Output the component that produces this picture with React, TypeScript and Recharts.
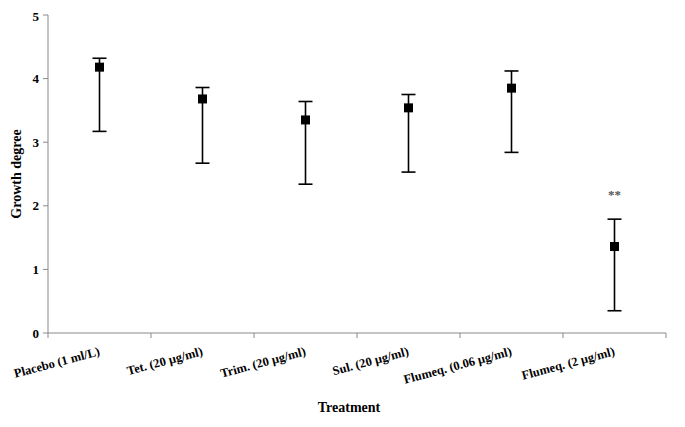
import React from "react";
import { ComposedChart, Line, XAxis, YAxis, ErrorBar, ReferenceDot } from "recharts";

const CATEGORIES = [
  "Placebo (1 ml/L)",
  "Tet. (20 µg/ml)",
  "Trim. (20 µg/ml)",
  "Sul. (20 µg/ml)",
  "Flumeq. (0.06 µg/ml)",
  "Flumeq. (2 µg/ml)",
];
const MEANS = [4.18, 3.68, 3.35, 3.54, 3.85, 1.36];
const UPPER = [4.32, 3.86, 3.64, 3.75, 4.12, 1.79];
const LOWER = [3.17, 2.67, 2.34, 2.53, 2.84, 0.35];
const Y_TICKS = [0, 1, 2, 3, 4, 5];
const SIG_MARKS = [{ name: "Flumeq. (2 µg/ml)", mark: "**" }];

const data = CATEGORIES.map((name, i) => ({
  name,
  mean: MEANS[i],
  err: [+(MEANS[i] - LOWER[i]).toFixed(3), +(UPPER[i] - MEANS[i]).toFixed(3)],
  hi: UPPER[i],
}));

const W = 677;
const H = 419;
const MARGIN = { top: 7, right: 19, left: 0, bottom: 4 };
const YAXIS_W = 40;
const XAXIS_H = 90;
const FONT = "'Liberation Serif', 'Times New Roman', serif";
const AXIS_COLOR = "#8a8a8a";
const HALF_BAND = (W - MARGIN.left - MARGIN.right - YAXIS_W) / CATEGORIES.length / 2;

const SquareDot = (props: any) => {
  const { cx, cy } = props;
  if (cx == null || cy == null) return null;
  return <rect x={cx - 4.5} y={cy - 4.5} width={9} height={9} fill="#000" />;
};

const CatTick = (props: any) => {
  const { x, y, payload, index } = props;
  const ty = y + 22;
  return (
    <g>
      <line x1={x - HALF_BAND} x2={x - HALF_BAND} y1={y} y2={y + 5} stroke={AXIS_COLOR} />
      {index === CATEGORIES.length - 1 && (
        <line x1={x + HALF_BAND} x2={x + HALF_BAND} y1={y} y2={y + 5} stroke={AXIS_COLOR} />
      )}
      <text
        x={x + 1}
        y={ty}
        textAnchor="end"
        transform={`rotate(-15, ${x + 1}, ${ty})`}
        fontFamily={FONT}
        fontWeight="bold"
        fontSize={12.5}
        fill="#000"
      >
        {payload.value}
      </text>
    </g>
  );
};

export default function App() {
  return (
    <ComposedChart width={W} height={H} data={data} margin={MARGIN}>
      <XAxis
        dataKey="name"
        type="category"
        scale="band"
        height={XAXIS_H}
        axisLine={{ stroke: AXIS_COLOR }}
        tickLine={false}
        tickSize={0}
        tickMargin={0}
        interval={0}
        tick={<CatTick />}
        label={{
          content: (p: any) => {
            const vb = p.viewBox || {};
            return (
              <text
                x={vb.x + vb.width / 2 - 8}
                y={vb.y + 79}
                textAnchor="middle"
                fontFamily={FONT}
                fontWeight="bold"
                fontSize={14}
                fill="#000"
              >
                Treatment
              </text>
            );
          },
        }}
      />
      <YAxis
        type="number"
        domain={[0, 5]}
        ticks={Y_TICKS}
        width={YAXIS_W}
        axisLine={{ stroke: AXIS_COLOR }}
        tickLine={{ stroke: AXIS_COLOR }}
        tickSize={5}
        tickMargin={4}
        tick={{ fontFamily: FONT, fontWeight: "bold", fontSize: 13, fill: "#000" }}
        label={{
          content: (p: any) => {
            const vb = p.viewBox || {};
            const cx = 13;
            const cy = vb.y + vb.height / 2;
            return (
              <text
                x={cx}
                y={cy}
                textAnchor="middle"
                transform={`rotate(-90, ${cx}, ${cy})`}
                fontFamily={FONT}
                fontWeight="bold"
                fontSize={14}
                fill="#000"
              >
                Growth degree
              </text>
            );
          },
        }}
      />
      <Line
        dataKey="mean"
        stroke="none"
        isAnimationActive={false}
        dot={<SquareDot />}
        activeDot={false}
      >
        <ErrorBar dataKey="err" width={7} stroke="#000" strokeWidth={1.6} direction="y" />
      </Line>
      {SIG_MARKS.map((s) => {
        const row = data.find((d) => d.name === s.name);
        return (
          <ReferenceDot
            key={s.name}
            x={s.name}
            y={(row ? row.hi : 0) + 0.42}
            r={0}
            stroke="none"
            fill="none"
            label={{
              content: (p: any) => {
                const vb = p.viewBox || {};
                return (
                  <text
                    x={vb.x}
                    y={vb.y + 7}
                    textAnchor="middle"
                    fontFamily={FONT}
                    fontWeight="bold"
                    fontSize={13}
                    fill="#555"
                  >
                    {s.mark}
                  </text>
                );
              },
            }}
          />
        );
      })}
    </ComposedChart>
  );
}
